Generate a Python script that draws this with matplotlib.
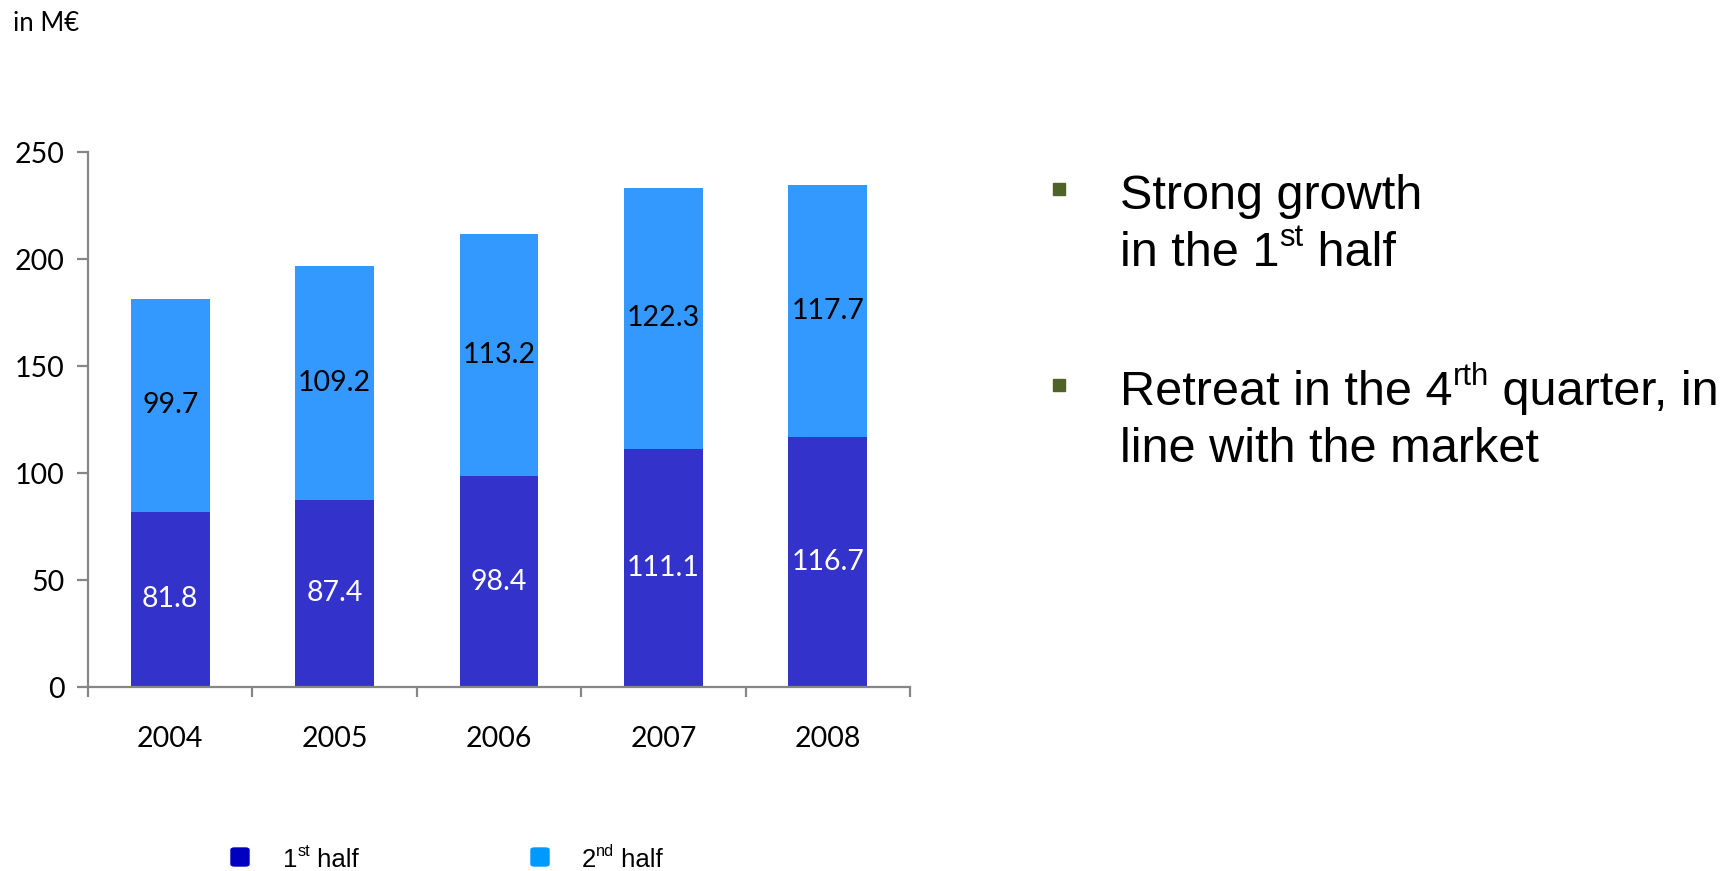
import matplotlib
matplotlib.use("Agg")
from matplotlib import pyplot as plt
from matplotlib.patches import FancyBboxPatch, Rectangle
import numpy as np

years = ['2004', '2005', '2006', '2007', '2008']
first_half = [81.8, 87.4, 98.4, 111.1, 116.7]
second_half = [99.7, 109.2, 113.2, 122.3, 117.7]
y_ticks = [0, 50, 100, 150, 200, 250]

DARK = '#3333CC'
LIGHT = '#3399FF'
AXIS_GREY = '#868686'
W, H = 1729, 871

fig = plt.figure(figsize=(W/100, H/100), dpi=100)
ax = fig.add_axes([88/W, 1-687/H, (910-88)/W, (687-152)/H])

x = np.arange(len(years))
ax.bar(x, first_half, width=0.48, color=DARK, zorder=2)
ax.bar(x, second_half, width=0.48, bottom=first_half, color=LIGHT, zorder=2)

lab_font = 'Lato'
for i in range(len(years)):
    ax.text(x[i], first_half[i]/2, '%.1f' % first_half[i], ha='center', va='center',
            color='white', fontsize=20.5, family=lab_font)
    ax.text(x[i], first_half[i]+second_half[i]/2, '%.1f' % second_half[i], ha='center',
            va='center', color='black', fontsize=20.5, family=lab_font)

ax.set_xlim(-0.5, 4.5)
ax.set_ylim(0, 250)
for s in ['top', 'right']:
    ax.spines[s].set_visible(False)
for s in ['left', 'bottom']:
    ax.spines[s].set_color(AXIS_GREY)
    ax.spines[s].set_linewidth(1.6)

ax.set_yticks(y_ticks)
ax.set_yticklabels([str(v) for v in y_ticks], family=lab_font, fontsize=20.5)
ax.tick_params(axis='y', length=8, width=1.6, color=AXIS_GREY, pad=9)

# year labels sit on invisible major ticks, the visible marks are minor ticks between bars
ax.set_xticks(x)
ax.set_xticklabels(years, family=lab_font, fontsize=20.5)
ax.set_xticks(np.arange(-0.5, 5, 1), minor=True)
ax.tick_params(axis='x', which='major', length=0, pad=28)
ax.tick_params(axis='x', which='minor', length=7, width=1.6, color=AXIS_GREY)

fig.text(13/W, 1-31/H, 'in M€', family=lab_font, fontsize=18.5, va='baseline')


def rich_text(px, py, parts, size, family, color='black'):
    # draws text with superscript pieces, positions in pixels from top-left
    renderer = fig.canvas.get_renderer()
    cur = px
    for s, sup in parts:
        fs = size*0.64 if sup else size
        yy = py - (size*0.42*100/72 if sup else 0)
        t = fig.text(cur/W, 1-yy/H, s, fontsize=fs, family=family, color=color,
                     va='baseline', ha='left')
        bb = t.get_window_extent(renderer)
        cur += bb.width


text_font = 'Liberation Sans'
bullets = [
    [[('Strong growth', False)],
     [('in the 1', False), ('st', True), (' half', False)]],
    [[('Retreat in the 4', False), ('rth', True), (' quarter, in', False)],
     [('line with the market', False)]],
]
bullet_y = [209, 405]
for by, lines in zip(bullet_y, bullets):
    fig.patches.append(Rectangle(((1053)/W, 1-(by-14)/H), 12/W, 12/H,
                                 transform=fig.transFigure, color='#4F6228'))
    for k, ln in enumerate(lines):
        rich_text(1120, by + k*57.5, ln, 35, text_font)

# legend
leg_items = [(240, '#0000C0', [('1', False), ('st', True), (' half', False)], 283),
             (540, '#0099FF', [('2', False), ('nd', True), (' half', False)], 582)]
for cx, col, parts, tx in leg_items:
    fig.patches.append(FancyBboxPatch(((cx-9)/W, 1-(857+9)/H), 18/W, 18/H,
                                      boxstyle='round,pad=0,rounding_size=0.002',
                                      transform=fig.transFigure, color=col))
    rich_text(tx, 867, parts, 18.5, 'Liberation Sans')

fig.savefig('out.png', dpi=100)
